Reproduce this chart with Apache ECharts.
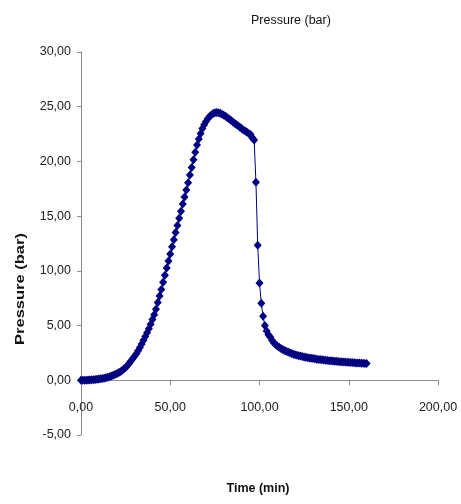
<!DOCTYPE html>
<html>
<head>
<meta charset="utf-8">
<script src="https://cdn.jsdelivr.net/npm/echarts@6/dist/echarts.min.js"></script>
<style>
  html, body { margin: 0; padding: 0; background: #ffffff; }
  #chart { width: 461px; height: 504px; }
</style>
</head>
<body>
<div id="chart"></div>
<script>
// Reactor pressure log: one reading per minute
const timeMin = [
  0, 1, 2, 3, 4, 5, 6, 7, 8, 9, 10, 11, 12, 13, 14, 15, 16, 17, 18, 19,
  20, 21, 22, 23, 24, 25, 26, 27, 28, 29, 30, 31, 32, 33, 34, 35, 36, 37, 38, 39,
  40, 41, 42, 43, 44, 45, 46, 47, 48, 49, 50, 51, 52, 53, 54, 55, 56, 57, 58, 59,
  60, 61, 62, 63, 64, 65, 66, 67, 68, 69, 70, 71, 72, 73, 74, 75, 76, 77, 78, 79,
  80, 81, 82, 83, 84, 85, 86, 87, 88, 89, 90, 91, 92, 93, 94, 95, 96, 97, 98, 99,
  100, 101, 102, 103, 104, 105, 106, 107, 108, 109, 110, 111, 112, 113, 114, 115, 116, 117, 118, 119,
  120, 121, 122, 123, 124, 125, 126, 127, 128, 129, 130, 131, 132, 133, 134, 135, 136, 137, 138, 139,
  140, 141, 142, 143, 144, 145, 146, 147, 148, 149, 150, 151, 152, 153, 154, 155, 156, 157, 158, 159,
  160
];

const pressureBar = [
  0.00, 0.00, 0.01, 0.01, 0.02, 0.03, 0.04, 0.05, 0.07, 0.09,
  0.11, 0.13, 0.16, 0.19, 0.23, 0.28, 0.33, 0.39, 0.45, 0.52,
  0.60, 0.68, 0.78, 0.89, 1.02, 1.17, 1.35, 1.55, 1.76, 1.98,
  2.20, 2.43, 2.70, 3.00, 3.32, 3.66, 4.00, 4.35, 4.72, 5.12,
  5.55, 6.00, 6.50, 7.10, 7.70, 8.30, 8.95, 9.60, 10.25, 10.90,
  11.55, 12.20, 12.85, 13.50, 14.15, 14.80, 15.45, 16.10, 16.75, 17.40,
  18.05, 18.75, 19.45, 20.15, 20.85, 21.50, 22.05, 22.55, 23.00, 23.35,
  23.65, 23.90, 24.10, 24.25, 24.38, 24.45, 24.48, 24.45, 24.40, 24.32,
  24.22, 24.12, 24.00, 23.88, 23.76, 23.63, 23.50, 23.38, 23.25, 23.12,
  23.00, 22.88, 22.77, 22.66, 22.55, 22.45, 22.15, 21.95, 18.10, 12.35,
  8.90, 7.05, 5.85, 5.00, 4.50, 4.15, 3.95, 3.65, 3.42, 3.27,
  3.13, 3.01, 2.91, 2.82, 2.73, 2.65, 2.58, 2.51, 2.45, 2.39,
  2.34, 2.29, 2.25, 2.21, 2.17, 2.13, 2.10, 2.07, 2.04, 2.01,
  1.98, 1.96, 1.93, 1.91, 1.89, 1.87, 1.85, 1.83, 1.81, 1.79,
  1.78, 1.76, 1.75, 1.73, 1.72, 1.70, 1.69, 1.68, 1.66, 1.65,
  1.64, 1.63, 1.62, 1.60, 1.59, 1.58, 1.57, 1.56, 1.55, 1.54,
  1.53
];

const chartTitle = 'Pressure (bar)';
const xTitle = 'Time (min)';
const yTitle = 'Pressure (bar)';

const NAVY = '#000080';
const AXIS_GREY = '#8c8c8c';
const FONT = '"Liberation Sans", Arial, sans-serif';

// decimal comma, two places
const fmt = v => v.toFixed(2).replace('.', ',');

const points = timeMin.map((t, i) => [t, pressureBar[i]]);

const chart = echarts.init(document.getElementById('chart'), null, { renderer: 'canvas' });

chart.setOption({
  animation: false,
  backgroundColor: '#ffffff',
  title: {
    text: chartTitle,
    left: 246,
    top: 9,
    textStyle: { fontFamily: FONT, fontSize: 12.5, fontWeight: 'normal', color: '#111' }
  },
  grid: { left: 81, right: 23, top: 52, bottom: 69, containLabel: false },
  xAxis: {
    type: 'value',
    min: 0,
    max: 200,
    interval: 50,
    axisLine: { show: true, onZero: true, lineStyle: { color: AXIS_GREY, width: 1 } },
    axisTick: { show: true, length: 5, lineStyle: { color: AXIS_GREY } },
    // labels sit just under the zero line rather than at the plot's foot
    axisLabel: { margin: -34, formatter: fmt, fontFamily: FONT, fontSize: 12.5, color: '#222' },
    splitLine: { show: false }
  },
  yAxis: {
    type: 'value',
    min: -5,
    max: 30,
    interval: 5,
    axisLine: { show: true, onZero: true, lineStyle: { color: AXIS_GREY, width: 1 } },
    axisTick: { show: true, length: 4, lineStyle: { color: AXIS_GREY } },
    axisLabel: { margin: 10, formatter: fmt, fontFamily: FONT, fontSize: 12.5, color: '#222' },
    splitLine: { show: false }
  },
  graphic: [
    {
      type: 'text',
      x: 258,
      y: 489,
      style: {
        text: xTitle,
        fontFamily: FONT,
        fontSize: 12.5,
        fontWeight: 'bold',
        fill: '#111',
        align: 'center',
        verticalAlign: 'middle'
      }
    },
    {
      type: 'text',
      x: 20,
      y: 289,
      rotation: Math.PI / 2,
      scaleY: 0.8,
      style: {
        text: yTitle,
        fontFamily: FONT,
        fontSize: 16.5,
        fontWeight: 'bold',
        fill: '#111',
        align: 'center',
        verticalAlign: 'middle'
      }
    }
  ],
  series: [
    {
      type: 'line',
      data: points,
      showSymbol: true,
      showAllSymbol: true,
      symbol: 'diamond',
      symbolSize: [8, 9],
      itemStyle: { color: NAVY, borderWidth: 0 },
      lineStyle: { color: NAVY, width: 1 },
      z: 3
    }
  ]
});
</script>
</body>
</html>
